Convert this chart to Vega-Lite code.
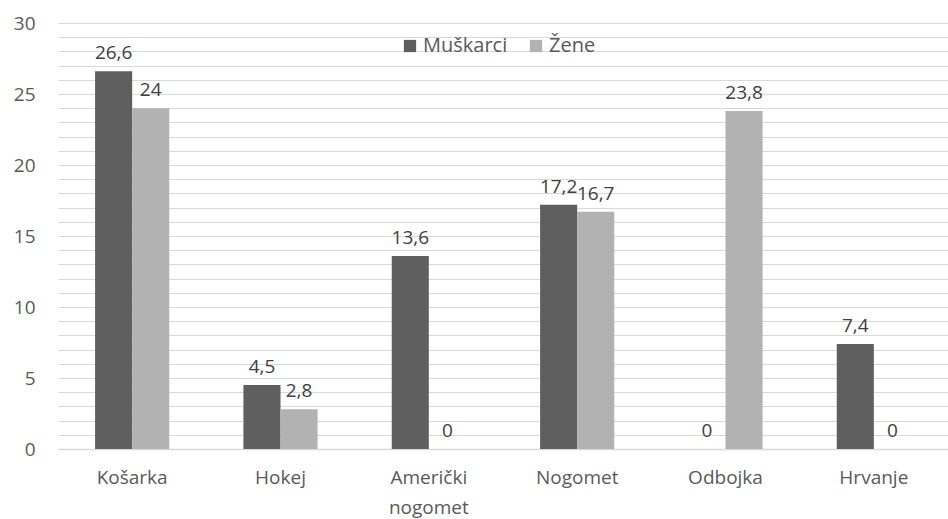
{
  "$schema": "https://vega.github.io/schema/vega-lite/v6.json",
  "width": 890,
  "height": 426,
  "autosize": {"type": "none"},
  "padding": {"left": 58, "top": 23, "right": 0, "bottom": 70},
  "background": "#ffffff",
  "config": {
    "locale": {"number": {"decimal": ",", "thousands": ".", "grouping": [3], "currency": ["", " €"]}},
    "font": "Open Sans",
    "view": {"stroke": null}
  },
  "data": {
    "values": [
      {"sport": "Košarka", "spol": "Muškarci", "value": 26.6},
      {"sport": "Košarka", "spol": "Žene", "value": 24},
      {"sport": "Hokej", "spol": "Muškarci", "value": 4.5},
      {"sport": "Hokej", "spol": "Žene", "value": 2.8},
      {"sport": "Američki nogomet", "spol": "Muškarci", "value": 13.6},
      {"sport": "Američki nogomet", "spol": "Žene", "value": 0},
      {"sport": "Nogomet", "spol": "Muškarci", "value": 17.2},
      {"sport": "Nogomet", "spol": "Žene", "value": 16.7},
      {"sport": "Odbojka", "spol": "Muškarci", "value": 0},
      {"sport": "Odbojka", "spol": "Žene", "value": 23.8},
      {"sport": "Hrvanje", "spol": "Muškarci", "value": 7.4},
      {"sport": "Hrvanje", "spol": "Žene", "value": 0}
    ]
  },
  "encoding": {
    "x": {
      "field": "sport",
      "type": "nominal",
      "sort": null,
      "scale": {"paddingInner": 0.5, "paddingOuter": 0.25},
      "axis": {
        "title": null,
        "labelAngle": 0,
        "labelFontSize": 19,
        "labelColor": "#595959",
        "labelPadding": 19,
        "labelBaseline": "top",
        "ticks": false,
        "domainColor": "#d9d9d9",
        "domainWidth": 1.5,
        "labelExpr": "datum.label == 'Američki nogomet' ? ['Američki', 'nogomet'] : datum.label",
        "labelLineHeight": 30
      }
    },
    "xOffset": {"field": "spol", "type": "nominal", "sort": ["Muškarci", "Žene"], "scale": {"paddingInner": 0, "paddingOuter": 0}},
    "y": {
      "field": "value",
      "type": "quantitative",
      "scale": {"domain": [0, 30], "nice": false},
      "axis": {
        "title": null,
        "values": [0,1,2,3,4,5,6,7,8,9,10,11,12,13,14,15,16,17,18,19,20,21,22,23,24,25,26,27,28,29,30],
        "labelExpr": "datum.value % 5 == 0 ? datum.label : ''",
        "labelFontSize": 19,
        "labelColor": "#595959",
        "labelPadding": 23,
        "ticks": false,
        "domain": false,
        "gridColor": "#d9d9d9",
        "gridWidth": 1.2
      }
    }
  },
  "layer": [
    {
      "mark": {"type": "bar"},
      "encoding": {
        "color": {
          "field": "spol",
          "type": "nominal",
          "sort": ["Muškarci", "Žene"],
          "scale": {"domain": ["Muškarci", "Žene"], "range": ["#5f5f5f", "#b2b2b2"]},
          "legend": {
            "title": null,
            "orient": "none",
            "direction": "horizontal",
            "legendX": 342,
            "legendY": 13,
            "symbolType": "square",
            "symbolSize": 150,
            "symbolStrokeWidth": 0,
            "labelFontSize": 20,
            "labelColor": "#595959",
            "labelOffset": 3,
            "columnPadding": 18
          }
        }
      }
    },
    {
      "mark": {"type": "text", "baseline": "bottom", "dy": -8, "fontSize": 19, "color": "#404040"},
      "encoding": {
        "text": {"field": "value", "type": "quantitative", "format": ".1~f"}
      }
    }
  ]
}
